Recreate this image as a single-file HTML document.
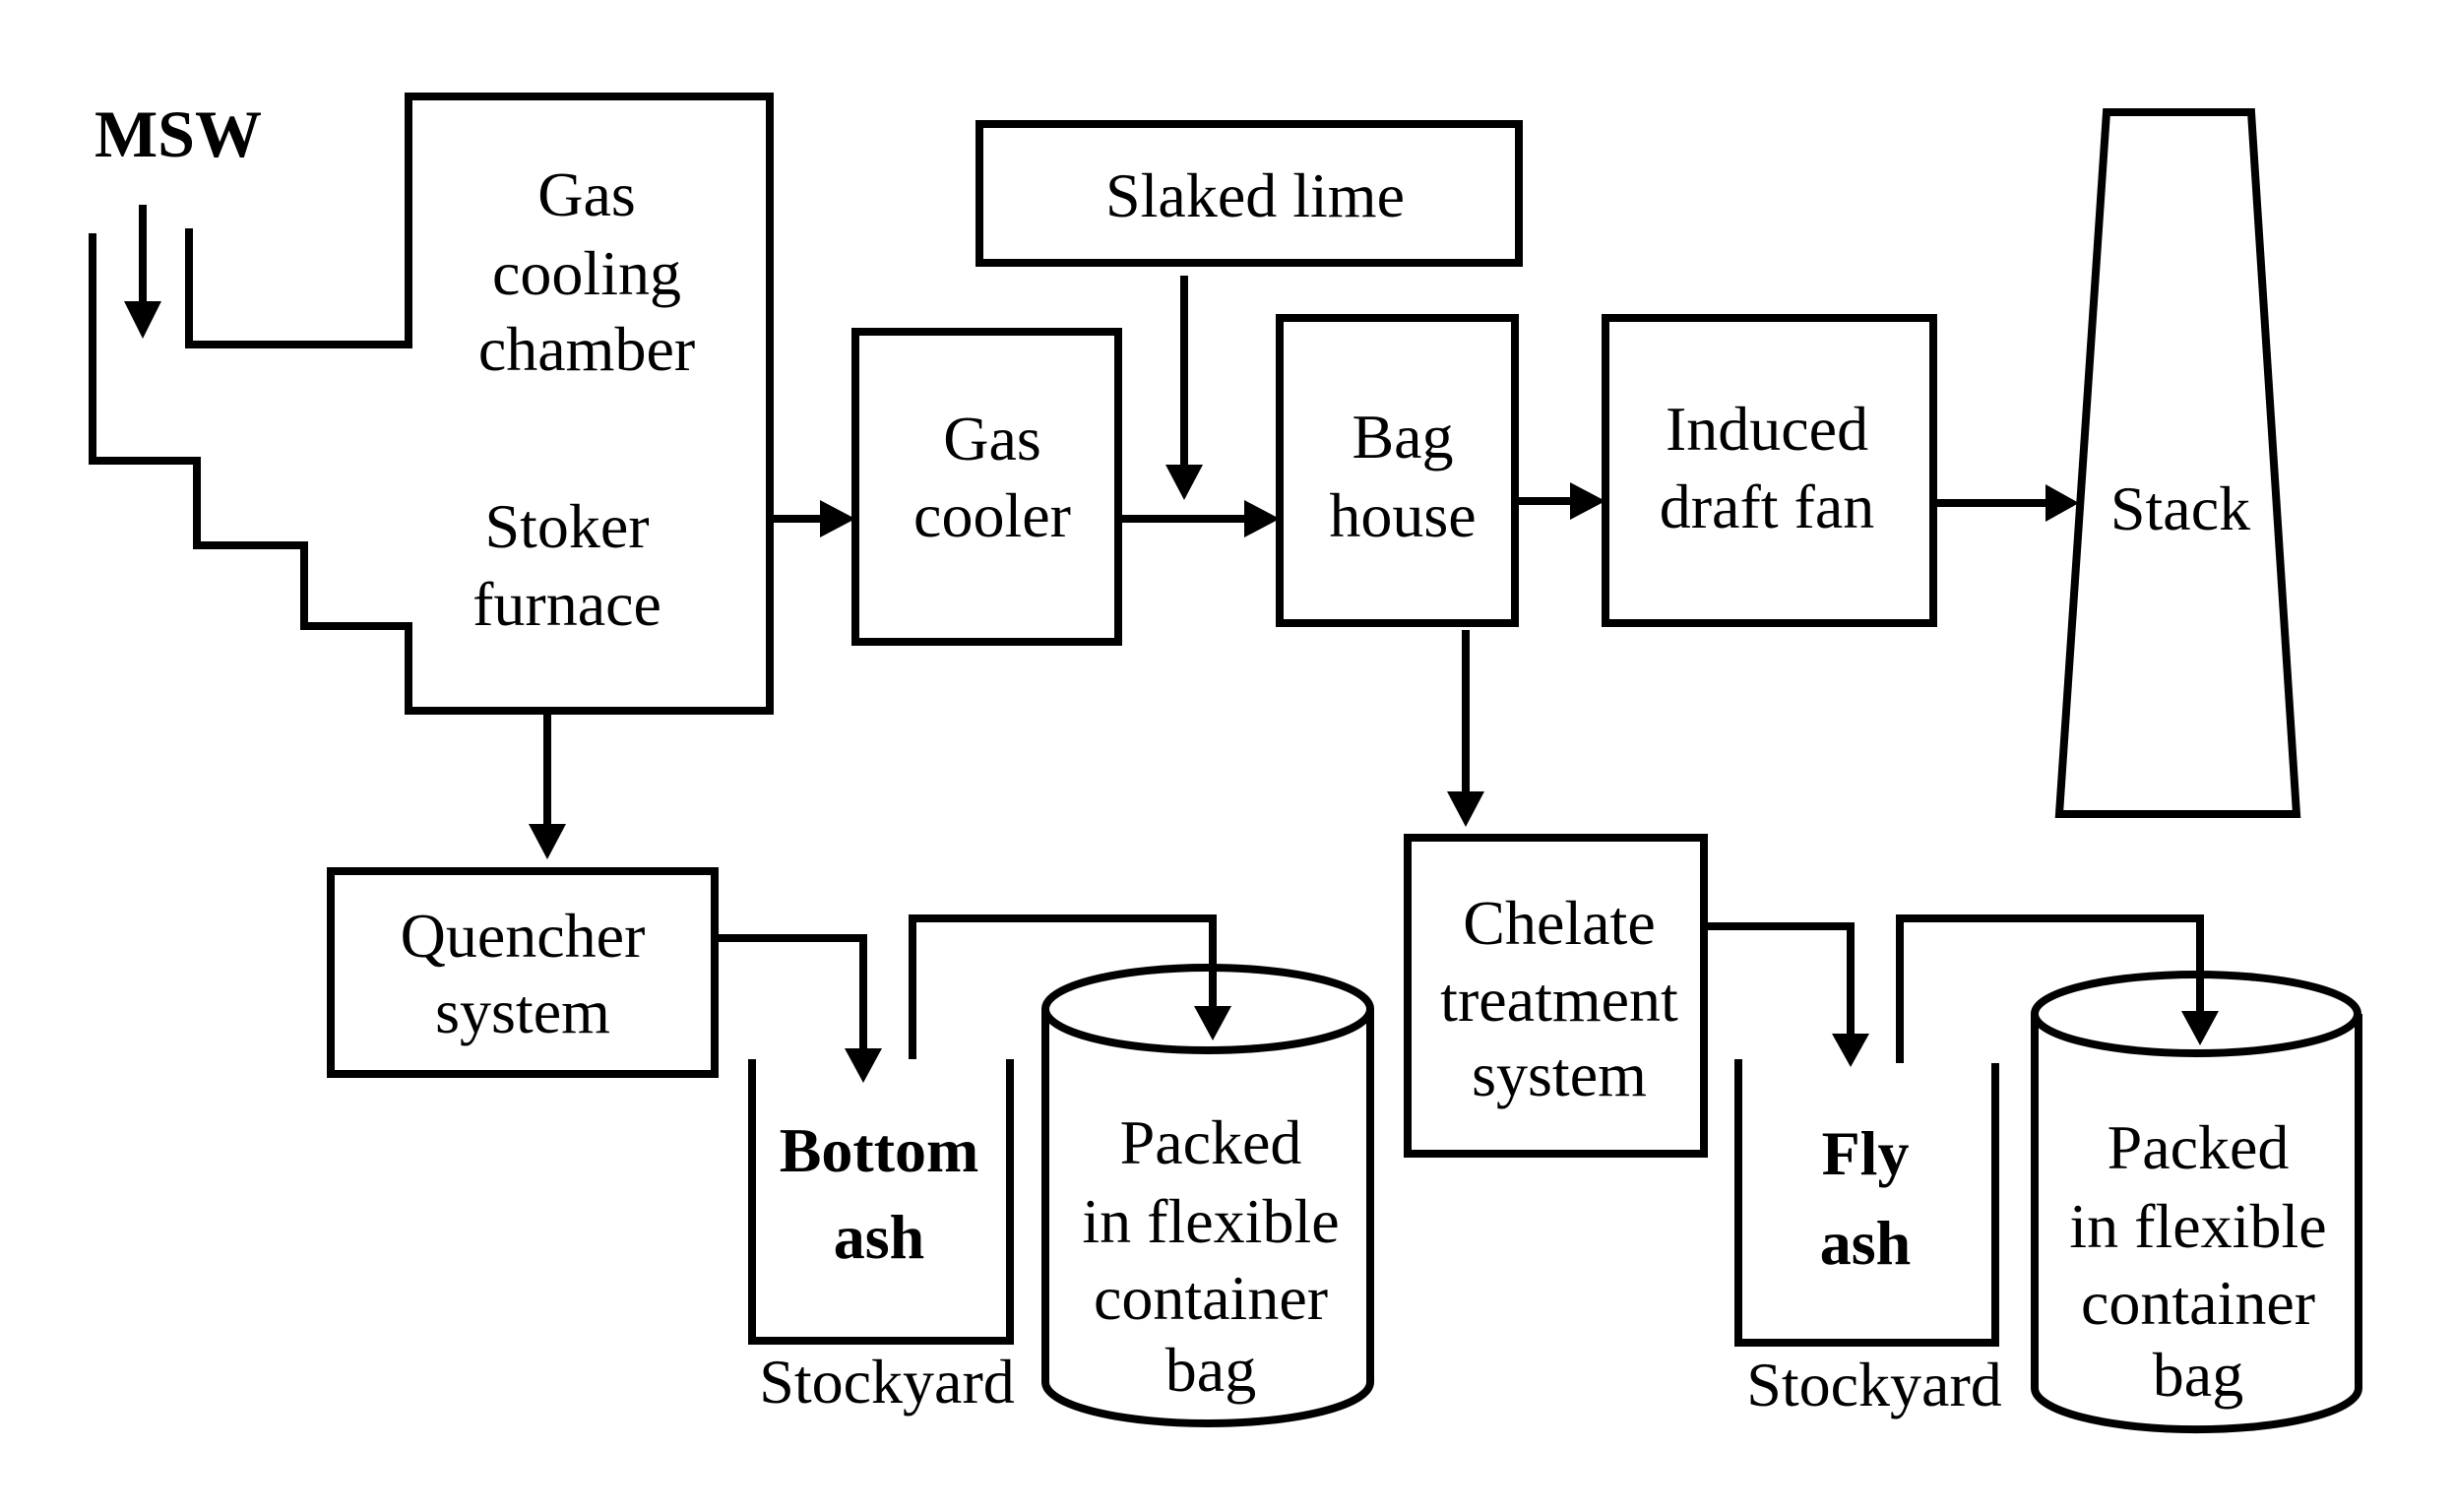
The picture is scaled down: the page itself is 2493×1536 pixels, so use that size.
<!DOCTYPE html>
<html><head><meta charset="utf-8"><style>
html,body{margin:0;padding:0;background:#fff;}
svg{display:block;}
text{font-family:"Liberation Serif",serif;fill:#000;}
</style></head><body>
<svg width="2493" height="1536" viewBox="0 0 2493 1536" xmlns="http://www.w3.org/2000/svg">
<g fill="none" stroke="#000" stroke-width="8" stroke-linejoin="miter">
<!-- furnace -->
<polyline points="192,232 192,350 415,350 415,98 782,98 782,722 415,722 415,636 309,636 309,554 200,554 200,468 94,468 94,237"/>
<!-- boxes -->
<rect x="869" y="337" width="267" height="315"/>
<rect x="995" y="126" width="548" height="141"/>
<rect x="1300" y="323" width="239" height="310"/>
<rect x="1631" y="323" width="333" height="310"/>
<polygon points="2140,114 2287,114 2333,827 2092,827"/>
<rect x="336" y="885" width="390" height="206"/>
<rect x="1430" y="851" width="301" height="321"/>
<!-- bins -->
<polyline points="764,1076 764,1362 1026,1362 1026,1076"/>
<polyline points="1766,1076 1766,1364 2027,1364 2027,1080"/>
<!-- cylinders -->
<path d="M1062,1025 L1062,1404 A165,42 0 0 0 1392,1404 L1392,1025"/>
<ellipse cx="1227" cy="1025" rx="165" ry="42"/>
<path d="M2067,1030 L2067,1410 A164,42 0 0 0 2396,1410 L2396,1030"/>
<ellipse cx="2231" cy="1030" rx="164" ry="40"/>
<!-- connectors -->
<line x1="145" y1="208" x2="145" y2="315"/>
<line x1="782" y1="527" x2="840" y2="527"/>
<line x1="1136" y1="527" x2="1270" y2="527"/>
<line x1="1203" y1="280" x2="1203" y2="478"/>
<line x1="1539" y1="509" x2="1600" y2="509"/>
<line x1="1964" y1="511" x2="2086" y2="511"/>
<line x1="556" y1="722" x2="556" y2="845"/>
<line x1="1489" y1="640" x2="1489" y2="810"/>
<polyline points="726,953 877,953 877,1070"/>
<polyline points="927,1076 927,933 1232,933 1232,1030"/>
<polyline points="1731,941 1880,941 1880,1055"/>
<polyline points="1930,1080 1930,933 2235,933 2235,1035"/>
</g>
<g fill="#000">
<polygon points="126,306 164,306 145,344"/>
<polygon points="833,508 833,546 869,527"/>
<polygon points="1264,508 1264,546 1300,527"/>
<polygon points="1184,472 1222,472 1203,508"/>
<polygon points="1595,490 1595,528 1631,509"/>
<polygon points="2078,492 2078,530 2112,511"/>
<polygon points="537,837 575,837 556,873"/>
<polygon points="1470,804 1508,804 1489,840"/>
<polygon points="858,1065 896,1065 877,1100"/>
<polygon points="1213,1022 1251,1022 1232,1057"/>
<polygon points="1861,1050 1899,1050 1880,1084"/>
<polygon points="2216,1027 2254,1027 2235,1062"/>
</g>
<text x="181" y="159" font-size="68" font-weight="bold" text-anchor="middle">MSW</text>
<g font-size="64" text-anchor="middle">
<text x="596" y="219">Gas</text>
<text x="596" y="299">cooling</text>
<text x="596" y="376">chamber</text>
<text x="576" y="556">Stoker</text>
<text x="576" y="635">furnace</text>
<text x="1008" y="467">Gas</text>
<text x="1008" y="545">cooler</text>
<text x="1275" y="220">Slaked lime</text>
<text x="1425" y="465">Bag</text>
<text x="1425" y="545">house</text>
<text x="1795" y="457">Induced</text>
<text x="1795" y="536">draft fan</text>
<text x="2215" y="538">Stack</text>
<text x="531" y="972">Quencher</text>
<text x="531" y="1049">system</text>
<text x="1584" y="959">Chelate</text>
<text x="1584" y="1037">treatment</text>
<text x="1584" y="1113">system</text>
<text x="901" y="1425">Stockyard</text>
<text x="1904" y="1428">Stockyard</text>
<text x="1230" y="1182">Packed</text>
<text x="1230" y="1262">in flexible</text>
<text x="1230" y="1340">container</text>
<text x="1230" y="1413">bag</text>
<text x="2233" y="1187">Packed</text>
<text x="2233" y="1267">in flexible</text>
<text x="2233" y="1345">container</text>
<text x="2233" y="1418">bag</text>
</g>
<g font-size="64" font-weight="bold" text-anchor="middle">
<text x="893" y="1190">Bottom</text>
<text x="893" y="1278">ash</text>
<text x="1895" y="1193">Fly</text>
<text x="1895" y="1284">ash</text>
</g>
</svg>
</body></html>
